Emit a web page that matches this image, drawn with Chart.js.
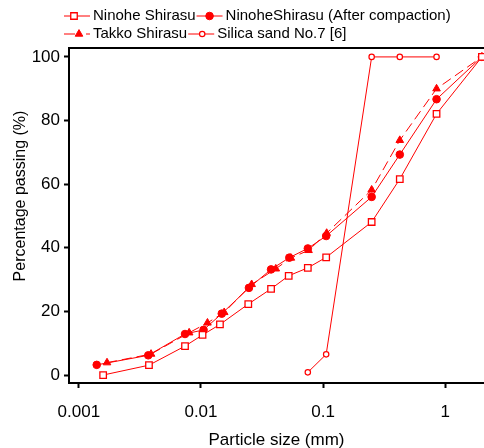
<!DOCTYPE html>
<html><head><meta charset="utf-8">
<script src="https://cdn.jsdelivr.net/npm/chart.js@4/dist/chart.umd.min.js"></script>
<style>html,body{margin:0;padding:0;background:#fff}#wrap{width:484px;height:448px;position:relative}</style>
</head><body><div id="wrap"><canvas id="c" width="484" height="448"></canvas></div>
<script>
const seriesLabels = ["Ninohe Shirasu", "NinoheShirasu (After compaction)", "Takko Shirasu", "Silica sand No.7 [6]"];
const sizeNinohe = [0.00158, 0.00375, 0.0074, 0.0103, 0.0143, 0.0244, 0.0375, 0.0523, 0.075, 0.106, 0.25, 0.425, 0.85, 2.0];
const passNinohe = [0, 3.1, 9.1, 12.6, 15.9, 22.3, 27.1, 31.2, 33.7, 37.0, 48.1, 61.6, 82.1, 100];
const sizeCompact = [0.0014, 0.0037, 0.0074, 0.0105, 0.0148, 0.0247, 0.0375, 0.0529, 0.075, 0.106, 0.25, 0.425, 0.85, 2.0];
const passCompact = [3.2, 6.2, 12.9, 14.2, 19.3, 27.4, 33.2, 36.9, 39.8, 43.7, 56.0, 69.3, 86.7, 100];
const sizeTakko = [0.0017, 0.0039, 0.008, 0.0113, 0.0155, 0.026, 0.041, 0.0545, 0.076, 0.107, 0.25, 0.425, 0.85, 2.0];
const passTakko = [3.9, 6.6, 13.3, 16.4, 19.7, 28.5, 33.4, 36.8, 39.2, 44.6, 58.2, 73.8, 90.0, 100];
const sizeSilica = [0.075, 0.106, 0.25, 0.425, 0.85];
const passSilica = [0.85, 6.5, 100, 100, 100];
const xTicks = [0.001, 0.01, 0.1, 1];
const yTicks = [0, 20, 40, 60, 80, 100];
const xTitle = 'Particle size (mm)';
const yTitle = 'Percentage passing (%)';

const RED = '#ff0000';
const FONT = '"Liberation Sans", Arial, sans-serif';
const pts = (xs, ys) => xs.map((x, i) => ({x: x, y: ys[i]}));

const datasets = [
  {label: seriesLabels[0], data: pts(sizeNinohe, passNinohe), pointStyle: 'rect', pointRadius: 4.6, backgroundColor: '#fff', borderColor: RED, borderWidth: 1, pointBorderWidth: 1.3},
  {label: seriesLabels[1], data: pts(sizeCompact, passCompact), pointStyle: 'circle', pointRadius: 3.8, backgroundColor: RED, borderColor: RED, borderWidth: 1},
  {label: seriesLabels[2], data: pts(sizeTakko, passTakko), pointStyle: 'triangle', pointRadius: 4.4, backgroundColor: RED, borderColor: RED, borderWidth: 1, borderDash: [10, 5]},
  {label: seriesLabels[3], data: pts(sizeSilica, passSilica), pointStyle: 'circle', pointRadius: 2.7, backgroundColor: '#fff', borderColor: RED, borderWidth: 1, pointBorderWidth: 1.2}
];
datasets.forEach(d => { d.showLine = true; d.clip = false; d.pointHoverRadius = d.pointRadius; });

const frame = {
  id: 'frame',
  afterDraw(chart) {
    const ctx = chart.ctx, a = chart.chartArea;
    ctx.save();
    ctx.strokeStyle = '#000'; ctx.lineWidth = 2;
    ctx.beginPath(); ctx.moveTo(a.left - 1, a.top); ctx.lineTo(chart.width, a.top); ctx.stroke();
    // y title
    ctx.save();
    ctx.translate(21, 196);
    ctx.rotate(-Math.PI / 2);
    ctx.fillStyle = '#000';
    ctx.font = '16px ' + FONT;
    ctx.textAlign = 'center'; ctx.textBaseline = 'middle';
    ctx.fillText(yTitle, 0, 0);
    ctx.restore();
    // legend
    ctx.font = '15px ' + FONT;
    ctx.textBaseline = 'middle';
    const rows = [[0, 1], [2, 3]];
    const rowY = [16, 34];
    const markOff = [10, 13, 15, 14];
    rows.forEach((r, ri) => {
      let x = 64;
      r.forEach(di => {
        const ds = chart.data.datasets[di];
        const y = rowY[ri];
        ctx.strokeStyle = RED; ctx.lineWidth = 1;
        ctx.setLineDash(ds.borderDash ? [11, 11] : []);
        ctx.beginPath(); ctx.moveTo(x, y); ctx.lineTo(x + 26, y); ctx.stroke();
        ctx.setLineDash([]);
        ctx.fillStyle = ds.backgroundColor; ctx.strokeStyle = RED;
        ctx.lineWidth = ds.pointBorderWidth || 1;
        Chart.helpers.drawPoint(ctx, {pointStyle: ds.pointStyle, radius: ds.pointRadius, borderWidth: ds.pointBorderWidth || 1, rotation: 0}, x + markOff[di], y);
        ctx.fillStyle = '#000';
        ctx.fillText(ds.label, x + 29, y);
        x += 29 + ctx.measureText(ds.label).width + 1;
      });
    });
    ctx.restore();
  }
};

new Chart(document.getElementById('c'), {
  type: 'scatter',
  data: {datasets: datasets},
  plugins: [frame],
  options: {
    responsive: false,
    animation: false,
    events: [],
    layout: {autoPadding: false, padding: {top: 48, right: 0, left: 0, bottom: 0}},
    plugins: {legend: {display: false}, tooltip: {enabled: false}},
    scales: {
      x: {
        type: 'logarithmic', min: 0.00083, max: 2.08,
        afterBuildTicks: s => { s.ticks = xTicks.map(v => ({value: v})); },
        afterFit: s => { s.height = 65; s.paddingRight = 0; s.paddingLeft = 0; },
        ticks: {callback: v => String(v), color: '#000', font: {size: 17, family: FONT}, padding: 14, maxRotation: 0, autoSkip: false},
        grid: {display: true, drawOnChartArea: false, drawTicks: true, tickLength: 5, tickWidth: 2, color: '#000'},
        border: {display: true, color: '#000', width: 2},
        title: {display: true, text: xTitle, color: '#000', font: {size: 17, family: FONT}, padding: {top: 6, bottom: -3}}
      },
      y: {
        type: 'linear', min: -2.5, max: 102.8,
        afterBuildTicks: s => { s.ticks = yTicks.map(v => ({value: v})); },
        afterFit: s => { s.width = 69; },
        ticks: {color: '#000', font: {size: 17, family: FONT}, padding: 4},
        grid: {display: true, drawOnChartArea: false, drawTicks: true, tickLength: 5, tickWidth: 2, color: '#000'},
        border: {display: true, color: '#000', width: 2},
        title: {display: false}
      }
    }
  }
});
</script></body></html>
